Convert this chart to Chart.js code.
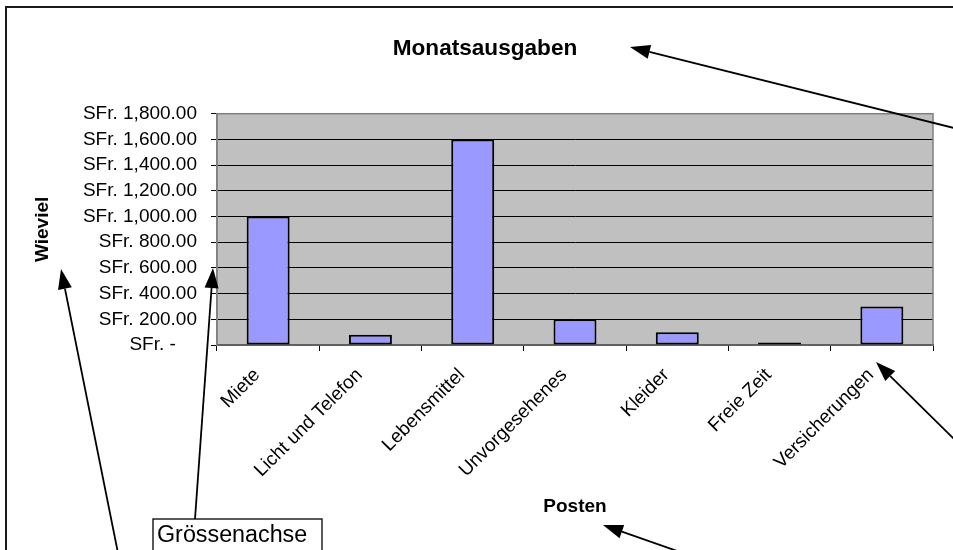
<!DOCTYPE html>
<html>
<head>
<meta charset="utf-8">
<script src="https://cdn.jsdelivr.net/npm/chart.js@4/dist/chart.umd.min.js"></script>
<style>
  html, body { margin: 0; padding: 0; background: #ffffff; }
  #wrap { width: 953px; height: 550px; }
</style>
</head>
<body>
<div id="wrap"><canvas id="c" width="953" height="550"></canvas></div>
<script>
// ---- data ----
const categories = ['Miete', 'Licht und Telefon', 'Lebensmittel', 'Unvorgesehenes', 'Kleider', 'Freie Zeit', 'Versicherungen'];
const amounts = [1000, 80, 1600, 200, 100, 20, 300];
const yTickValues = [0, 200, 400, 600, 800, 1000, 1200, 1400, 1600, 1800];
const yTickLabels = ['SFr. -\u00a0\u00a0\u00a0\u00a0', 'SFr. 200.00', 'SFr. 400.00', 'SFr. 600.00', 'SFr. 800.00',
                     'SFr. 1,000.00', 'SFr. 1,200.00', 'SFr. 1,400.00', 'SFr. 1,600.00', 'SFr. 1,800.00'];
const chartTitle = 'Monatsausgaben';
const xTitle = 'Posten';
const yTitle = 'Wieviel';
const calloutText = 'Grössenachse';

const FONT = "'Liberation Sans', Arial, sans-serif";

function arrow(ctx, x1, y1, x2, y2, headLen, headW) {
  const ang = Math.atan2(y2 - y1, x2 - x1);
  const bx = x2 - headLen * Math.cos(ang), by = y2 - headLen * Math.sin(ang);
  ctx.beginPath();
  ctx.moveTo(x1, y1);
  ctx.lineTo(bx, by);
  ctx.stroke();
  ctx.beginPath();
  ctx.moveTo(x2, y2);
  ctx.lineTo(bx + headW * Math.sin(ang), by - headW * Math.cos(ang));
  ctx.lineTo(bx - headW * Math.sin(ang), by + headW * Math.cos(ang));
  ctx.closePath();
  ctx.fill();
}

const decor = {
  id: 'decor',
  beforeDraw(chart) {
    const {ctx, chartArea: a} = chart;
    ctx.save();
    ctx.fillStyle = '#ffffff';
    ctx.fillRect(0, 0, chart.width, chart.height);
    ctx.fillStyle = '#c0c0c0';
    ctx.fillRect(a.left, a.top, a.right - a.left, a.bottom - a.top);
    ctx.restore();
  },
  beforeDatasetsDraw(chart) {
    const {ctx, chartArea: a} = chart;
    ctx.save();
    ctx.strokeStyle = '#808080';
    ctx.lineWidth = 1.5;
    ctx.strokeRect(a.left, a.top, a.right - a.left, a.bottom - a.top);
    ctx.restore();
  },
  afterDraw(chart) {
    const ctx = chart.ctx;
    ctx.save();
    // outer frame
    ctx.strokeStyle = '#1a1a1a';
    ctx.lineWidth = 2;
    ctx.strokeRect(6, 7, 1000, 1000);
    // callout box
    ctx.fillStyle = '#ffffff';
    ctx.fillRect(153, 519, 169, 40);
    ctx.strokeStyle = '#000000';
    ctx.lineWidth = 1.3;
    ctx.strokeRect(153, 519, 169, 40);
    ctx.fillStyle = '#000000';
    ctx.font = '23.3px ' + FONT;
    ctx.textBaseline = 'alphabetic';
    ctx.textAlign = 'left';
    ctx.fillText(calloutText, 157, 542);
    // arrows
    ctx.lineWidth = 1.8;
    ctx.strokeStyle = '#000000';
    ctx.fillStyle = '#000000';
    arrow(ctx, 958, 129, 630, 47, 20, 7);
    arrow(ctx, 958, 443, 876, 362, 20, 7);
    arrow(ctx, 680, 552, 603, 525, 20, 7);
    arrow(ctx, 195, 519, 213, 268, 20, 7);
    arrow(ctx, 118, 553, 61, 269, 20, 7);
    ctx.restore();
  }
};

new Chart(document.getElementById('c'), {
  type: 'bar',
  data: {
    labels: categories,
    datasets: [{
      data: amounts,
      backgroundColor: '#9999ff',
      borderColor: '#000000',
      borderWidth: 2,
      borderSkipped: false,
      barPercentage: 0.42,
      categoryPercentage: 1.0
    }]
  },
  options: {
    responsive: false,
    animation: false,
    events: [],
    layout: { padding: { left: 17, right: 0, top: 0, bottom: 0 } },
    plugins: {
      legend: { display: false },
      tooltip: { enabled: false },
      title: {
        display: true,
        text: chartTitle,
        color: '#000000',
        font: { family: FONT, size: 22.6, weight: 'bold', lineHeight: 1.2 },
        padding: { top: 35, bottom: 51.6 }
      }
    },
    scales: {
      x: {
        type: 'category',
        grid: { display: true, drawOnChartArea: false, drawTicks: true, tickLength: 6, color: '#000000', lineWidth: 1, offset: true },
        border: { display: true, color: '#000000', width: 1.5 },
        ticks: {
          color: '#000000',
          font: { family: FONT, size: 19 },
          minRotation: 45, maxRotation: 45,
          autoSkip: false,
          padding: 13,
          labelOffset: -11
        },
        title: {
          display: true, text: xTitle, color: '#000000',
          font: { family: FONT, size: 19, weight: 'bold', lineHeight: 1.2 },
          padding: { top: 0, bottom: 32 }
        },
        afterFit(s) { s.height = 205; }
      },
      y: {
        type: 'linear',
        position: 'left',
        min: 0, max: 1800,
        afterBuildTicks(s) { s.ticks = yTickValues.map(v => ({ value: v })); },
        grid: { display: true, drawOnChartArea: true, drawTicks: true, tickLength: 6, color: '#000000', lineWidth: 1 },
        border: { display: true, color: '#808080', width: 1.5 },
        ticks: {
          color: '#000000',
          font: { family: FONT, size: 19 },
          padding: 14,
          autoSkip: false,
          callback(v) { const i = yTickValues.indexOf(v); return i >= 0 ? yTickLabels[i] : ''; }
        },
        title: {
          display: true, text: yTitle, color: '#000000',
          font: { family: FONT, size: 19, weight: 'bold', lineHeight: 1.2 },
          padding: { top: 14.6, bottom: 0 }
        },
        afterFit(s) { s.width = 200; }
      },
      y2: {
        type: 'linear',
        position: 'right',
        display: true,
        grid: { display: false, drawTicks: false },
        border: { display: false },
        ticks: { display: false },
        afterFit(s) { s.width = 20; }
      }
    }
  },
  plugins: [decor]
});
</script>
</body>
</html>
